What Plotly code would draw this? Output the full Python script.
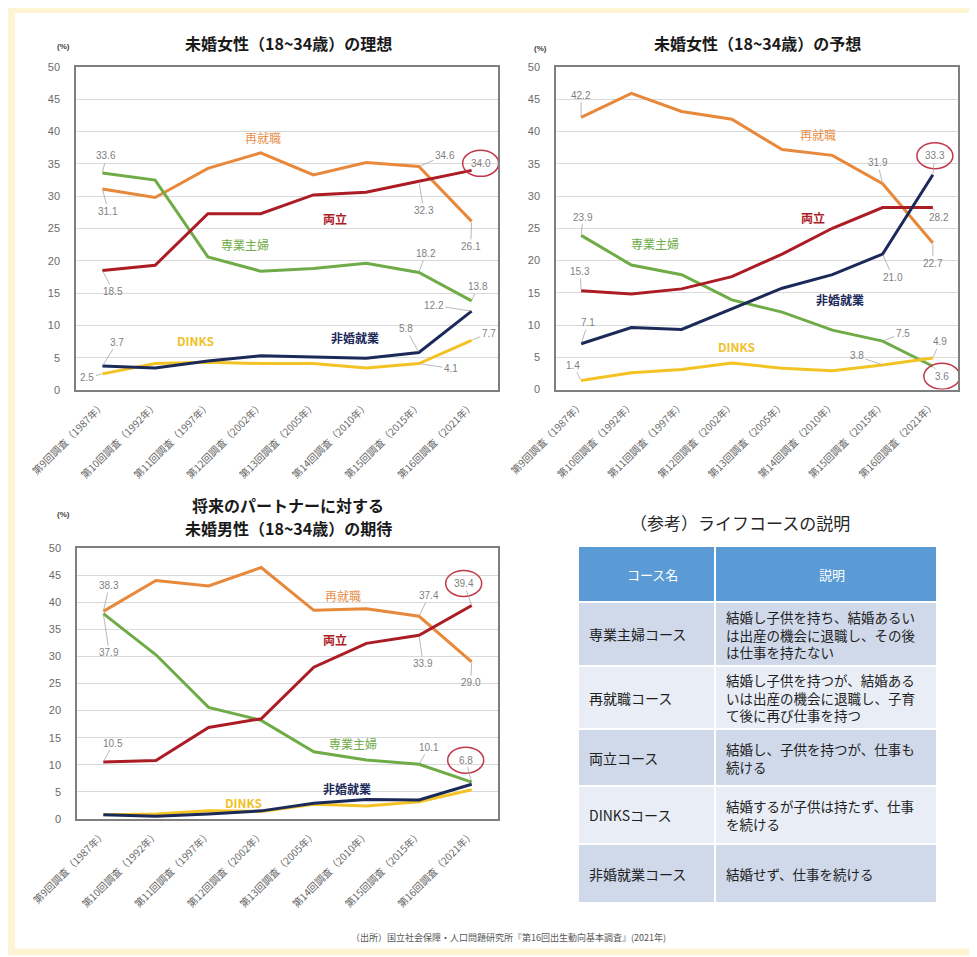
import plotly.graph_objects as go

# ---------------- data ----------------
surveys = ["第9回調査（1987年）", "第10回調査（1992年）", "第11回調査（1997年）", "第12回調査（2002年）",
           "第13回調査（2005年）", "第14回調査（2010年）", "第15回調査（2015年）", "第16回調査（2021年）"]
series_names = ["再就職", "専業主婦", "DINKS", "両立", "非婚就業"]

# 未婚女性の理想
ideal_saishushoku = [31.1, 29.8, 34.3, 36.7, 33.3, 35.2, 34.6, 26.1]
ideal_sengyo = [33.6, 32.5, 20.6, 18.4, 18.8, 19.6, 18.2, 13.8]
ideal_dinks = [2.5, 4.1, 4.3, 4.1, 4.1, 3.4, 4.1, 7.7]
ideal_ryoritsu = [18.5, 19.3, 27.3, 27.3, 30.2, 30.6, 32.3, 34.0]
ideal_hikon = [3.7, 3.4, 4.5, 5.3, 5.1, 4.9, 5.8, 12.2]

# 未婚女性の予想
expect_saishushoku = [42.2, 45.9, 43.1, 41.9, 37.2, 36.3, 31.9, 22.7]
expect_sengyo = [23.9, 19.3, 17.8, 13.9, 12.0, 9.2, 7.5, 3.6]
expect_dinks = [1.4, 2.6, 3.1, 4.1, 3.3, 2.9, 3.8, 4.9]
expect_ryoritsu = [15.3, 14.8, 15.6, 17.5, 21.0, 25.0, 28.2, 28.2]
expect_hikon = [7.1, 9.6, 9.3, 12.5, 15.7, 17.8, 21.0, 33.3]

# 未婚男性の期待
male_saishushoku = [38.3, 44.0, 43.0, 46.4, 38.5, 38.8, 37.4, 29.0]
male_sengyo = [37.9, 30.3, 20.6, 18.2, 12.4, 10.9, 10.1, 6.8]
male_dinks = [0.8, 0.9, 1.5, 1.4, 2.7, 2.4, 3.2, 5.4]
male_ryoritsu = [10.5, 10.8, 16.9, 18.5, 28.0, 32.4, 33.9, 39.4]
male_hikon = [0.8, 0.5, 0.9, 1.5, 2.9, 3.6, 3.5, 6.4]

y_ticks = [0, 5, 10, 15, 20, 25, 30, 35, 40, 45, 50]

table_header = ["コース名", "説明"]
course_names = ["専業主婦コース", "再就職コース", "両立コース", "DINKSコース", "非婚就業コース"]
course_desc = ["結婚し子供を持ち、結婚あるい<br>は出産の機会に退職し、その後<br>は仕事を持たない",
               "結婚し子供を持つが、結婚ある<br>いは出産の機会に退職し、子育<br>て後に再び仕事を持つ",
               "結婚し、子供を持つが、仕事も<br>続ける",
               "結婚するが子供は持たず、仕事<br>を続ける",
               "結婚せず、仕事を続ける"]

# ---------------- styles ----------------
PAGE_OFFSET = 8            # default body margin of the written html page
W, H = 977 - PAGE_OFFSET, 957 - PAGE_OFFSET
JP = "Noto Sans CJK JP"
colors = {"再就職": "#e8883a", "専業主婦": "#6fab47", "DINKS": "#f3c324",
          "両立": "#ac1c24", "非婚就業": "#1c2a5a"}
label_colors = {"再就職": "#e8904a", "専業主婦": "#6fab47", "DINKS": "#f0c02a",
                "両立": "#ac1c24", "非婚就業": "#1c2a5a"}
label_bold = {"再就職": False, "専業主婦": False, "DINKS": True, "両立": True, "非婚就業": True}

def px(x):
    return (x - PAGE_OFFSET) / W

def py(y):
    return 1 - (y - PAGE_OFFSET) / H

charts = [
    dict(ax="", dom_x=[px(76), px(498)], dom_y=[py(390), py(67)],
         data={"再就職": ideal_saishushoku, "専業主婦": ideal_sengyo, "DINKS": ideal_dinks,
               "両立": ideal_ryoritsu, "非婚就業": ideal_hikon},
         # (series, index, ax, ay, circled)
         labels=[("専業主婦", 0, 4, -17, False), ("再就職", 0, 6, 22, False), ("両立", 0, 11, 21, False),
                 ("非婚就業", 0, 15, -24, False), ("DINKS", 0, -15, 4, False),
                 ("再就職", 6, 26, -11, False), ("両立", 7, 9, -7, True), ("両立", 6, 5, 29, False),
                 ("再就職", 7, -1, 25, False), ("専業主婦", 6, 7, -19, False), ("専業主婦", 7, 6, -14, False),
                 ("非婚就業", 7, -38, -6, False), ("非婚就業", 6, -13, -24, False),
                 ("DINKS", 7, 17, -7, False), ("DINKS", 6, 32, 5, False)],
         names=[("再就職", 3.05, 39.1), ("両立", 4.41, 26.6), ("専業主婦", 2.70, 22.6),
                ("DINKS", 1.76, 7.7), ("非婚就業", 4.79, 8.1)]),
    dict(ax="2", dom_x=[px(556), px(958)], dom_y=[py(389.5), py(67)],
         data={"再就職": expect_saishushoku, "専業主婦": expect_sengyo, "DINKS": expect_dinks,
               "両立": expect_ryoritsu, "非婚就業": expect_hikon},
         labels=[("再就職", 0, 0, -22, False), ("専業主婦", 0, 2, -18, False), ("再就職", 6, -5, -21, False),
                 ("非婚就業", 7, 2, -19, True), ("両立", 7, 6, 10, False), ("再就職", 7, 0, 20, False),
                 ("両立", 0, -1, -19, False), ("非婚就業", 6, 10, 23, False), ("非婚就業", 0, 7, -21, False),
                 ("専業主婦", 6, 20, -8, False), ("DINKS", 7, 7, -16, False), ("DINKS", 6, -26, -9, False),
                 ("DINKS", 0, -8, -15, False), ("専業主婦", 7, 9, 10, True)],
         names=[("再就職", 4.71, 39.5), ("両立", 4.61, 26.7), ("専業主婦", 1.47, 22.7),
                ("非婚就業", 5.15, 14.0), ("DINKS", 3.10, 6.6)]),
    dict(ax="3", dom_x=[px(77), px(498)], dom_y=[py(819), py(548)],
         data={"再就職": male_saishushoku, "専業主婦": male_sengyo, "DINKS": male_dinks,
               "両立": male_ryoritsu, "非婚就業": male_hikon},
         labels=[("再就職", 0, 6, -26, False), ("専業主婦", 0, 6, 39, False), ("再就職", 6, 10, -21, False),
                 ("両立", 7, -8, -22, True), ("両立", 6, 4, 28, False), ("再就職", 7, -1, 21, False),
                 ("両立", 0, 10, -19, False), ("専業主婦", 6, 10, -17, False), ("専業主婦", 7, -6, -22, True)],
         names=[("再就職", 4.56, 41.3), ("両立", 4.41, 33.2), ("専業主婦", 4.75, 14.0),
                ("非婚就業", 4.64, 5.7), ("DINKS", 2.67, 3.1)]),
]

fig = go.Figure()
annotations = []
shapes = []
idx = list(range(len(surveys)))

for ch in charts:
    a = ch["ax"]
    xref, yref = "x" + a, "y" + a
    for name in series_names:
        fig.add_trace(go.Scatter(x=idx, y=ch["data"][name], mode="lines", name=name,
                                 line=dict(color=colors[name], width=3),
                                 xaxis=xref, yaxis=yref, showlegend=False, hoverinfo="skip"))
    for (name, i, dx, dy, circ) in ch["labels"]:
        v = ch["data"][name][i]
        annotations.append(dict(x=i, y=v, xref=xref, yref=yref, text=f"{v:.1f}",
                                showarrow=True, arrowhead=0, arrowwidth=0.8, arrowcolor="#a6a6a6",
                                ax=dx, ay=dy, standoff=1,
                                font=dict(family="Liberation Sans", size=10, color="#7f7f7f")))
        if circ:
            shapes.append(dict(type="circle", xref=xref, yref=yref, xsizemode="pixel", ysizemode="pixel",
                               xanchor=i, yanchor=v, x0=dx - 18, x1=dx + 18, y0=-dy - 13, y1=-dy + 13,
                               line=dict(color="#c2374a", width=1.5), fillcolor="rgba(0,0,0,0)"))
    for (name, lx, ly) in ch["names"]:
        txt = f"<b>{name}</b>" if label_bold[name] else name
        annotations.append(dict(x=lx, y=ly, xref=xref, yref=yref, text=txt, showarrow=False,
                                font=dict(family=JP, size=12, color=label_colors[name])))
    axis_x = dict(domain=ch["dom_x"], range=[-0.5, len(surveys) - 0.5], tickmode="array",
                  tickvals=idx, ticktext=surveys, tickangle=-45, showgrid=False, zeroline=False,
                  showline=True, mirror=True, linecolor="#7f7f7f", linewidth=1.5, automargin=False,
                  ticklabelstandoff=4,
                  tickfont=dict(family=JP, size=10, color="#666666"), anchor=yref, fixedrange=True)
    axis_y = dict(domain=ch["dom_y"], range=[0, 50], tickmode="array", tickvals=y_ticks,
                  showgrid=True, gridcolor="#d9d9d9", gridwidth=1, zeroline=False,
                  showline=True, mirror=True, linecolor="#7f7f7f", linewidth=1.5, automargin=False,
                  ticklabelstandoff=12,
                  tickfont=dict(family="Liberation Sans", size=11, color="#6b6b6b"), anchor=xref,
                  fixedrange=True)
    fig.update_layout({"xaxis" + a: axis_x, "yaxis" + a: axis_y})

# titles and unit labels
titles = [("<b>未婚女性（18~34歳）の理想</b>", 288, 43),
          ("<b>未婚女性（18~34歳）の予想</b>", 757, 43),
          ("<b>将来のパートナーに対する</b>", 288, 505),
          ("<b>未婚男性（18~34歳）の期待</b>", 288, 528)]
for t, x, y in titles:
    annotations.append(dict(x=px(x), y=py(y), xref="paper", yref="paper", text=t, showarrow=False,
                            xanchor="center", yanchor="middle", borderpad=0,
                            font=dict(family=JP, size=16, color="#1a1a1a")))
for x, y in [(63, 47), (540, 48), (63, 514)]:
    annotations.append(dict(x=px(x), y=py(y), xref="paper", yref="paper", text="<b>(%)</b>",
                            showarrow=False, xanchor="center", yanchor="middle",
                            font=dict(family="Liberation Sans", size=8, color="#404040")))

annotations.append(dict(x=px(740), y=py(522), xref="paper", yref="paper", text="（参考）ライフコースの説明",
                        showarrow=False, xanchor="center", yanchor="middle",
                        font=dict(family=JP, size=17, color="#262626")))
annotations.append(dict(x=px(508), y=py(937), xref="paper", yref="paper",
                        text="（出所）国立社会保障・人口問題研究所『第16回出生動向基本調査』(2021年)",
                        showarrow=False, xanchor="center", yanchor="middle",
                        font=dict(family=JP, size=9, color="#555555")))

# ---------------- table (shapes + text) ----------------
col_edges = [(579, 714), (716, 936)]
header_band = (547, 601)
row_bands = [(603, 665), (667, 728), (730, 785), (787, 843), (845, 902)]
dark, light = "#cfd9ea", "#e9eef6"
row_fill = [dark, light, dark, light, dark]

for (x0, x1), txt in zip(col_edges, table_header):
    shapes.append(dict(type="rect", xref="paper", yref="paper", x0=px(x0), x1=px(x1),
                       y0=py(header_band[1]), y1=py(header_band[0]), fillcolor="#5b9bd5",
                       line=dict(width=0), layer="below"))
    annotations.append(dict(x=px((x0 + x1) / 2 + 6), y=py(sum(header_band) / 2), xref="paper", yref="paper",
                            text=txt, showarrow=False, xanchor="center", yanchor="middle",
                            font=dict(family=JP, size=13, color="white")))

for r, (y0, y1) in enumerate(row_bands):
    for c, (x0, x1) in enumerate(col_edges):
        shapes.append(dict(type="rect", xref="paper", yref="paper", x0=px(x0), x1=px(x1),
                           y0=py(y1), y1=py(y0), fillcolor=row_fill[r], line=dict(width=0), layer="below"))
    mid = (y0 + y1) / 2
    annotations.append(dict(x=px(col_edges[0][0] + 8), y=py(mid), xref="paper", yref="paper",
                            text=course_names[r], showarrow=False, xanchor="left", yanchor="middle",
                            font=dict(family=JP, size=14, color="#1f1f1f")))
    annotations.append(dict(x=px(col_edges[1][0] + 9), y=py(mid), xref="paper", yref="paper",
                            text=course_desc[r], showarrow=False, xanchor="left", yanchor="middle",
                            align="left", borderpad=0,
                            font=dict(family=JP, size=13.5, color="#1f1f1f")))

# outer cream frame
shapes.append(dict(type="rect", xref="paper", yref="paper", x0=px(11.5), x1=px(974), y0=py(952), y1=py(9.5),
                   line=dict(color="#fcf4d3", width=7), fillcolor="rgba(0,0,0,0)", layer="below"))

fig.update_layout(width=W, height=H, margin=dict(l=0, r=0, t=0, b=0),
                  paper_bgcolor="white", plot_bgcolor="white",
                  annotations=annotations, shapes=shapes, showlegend=False)

fig.write_html("out.html")
